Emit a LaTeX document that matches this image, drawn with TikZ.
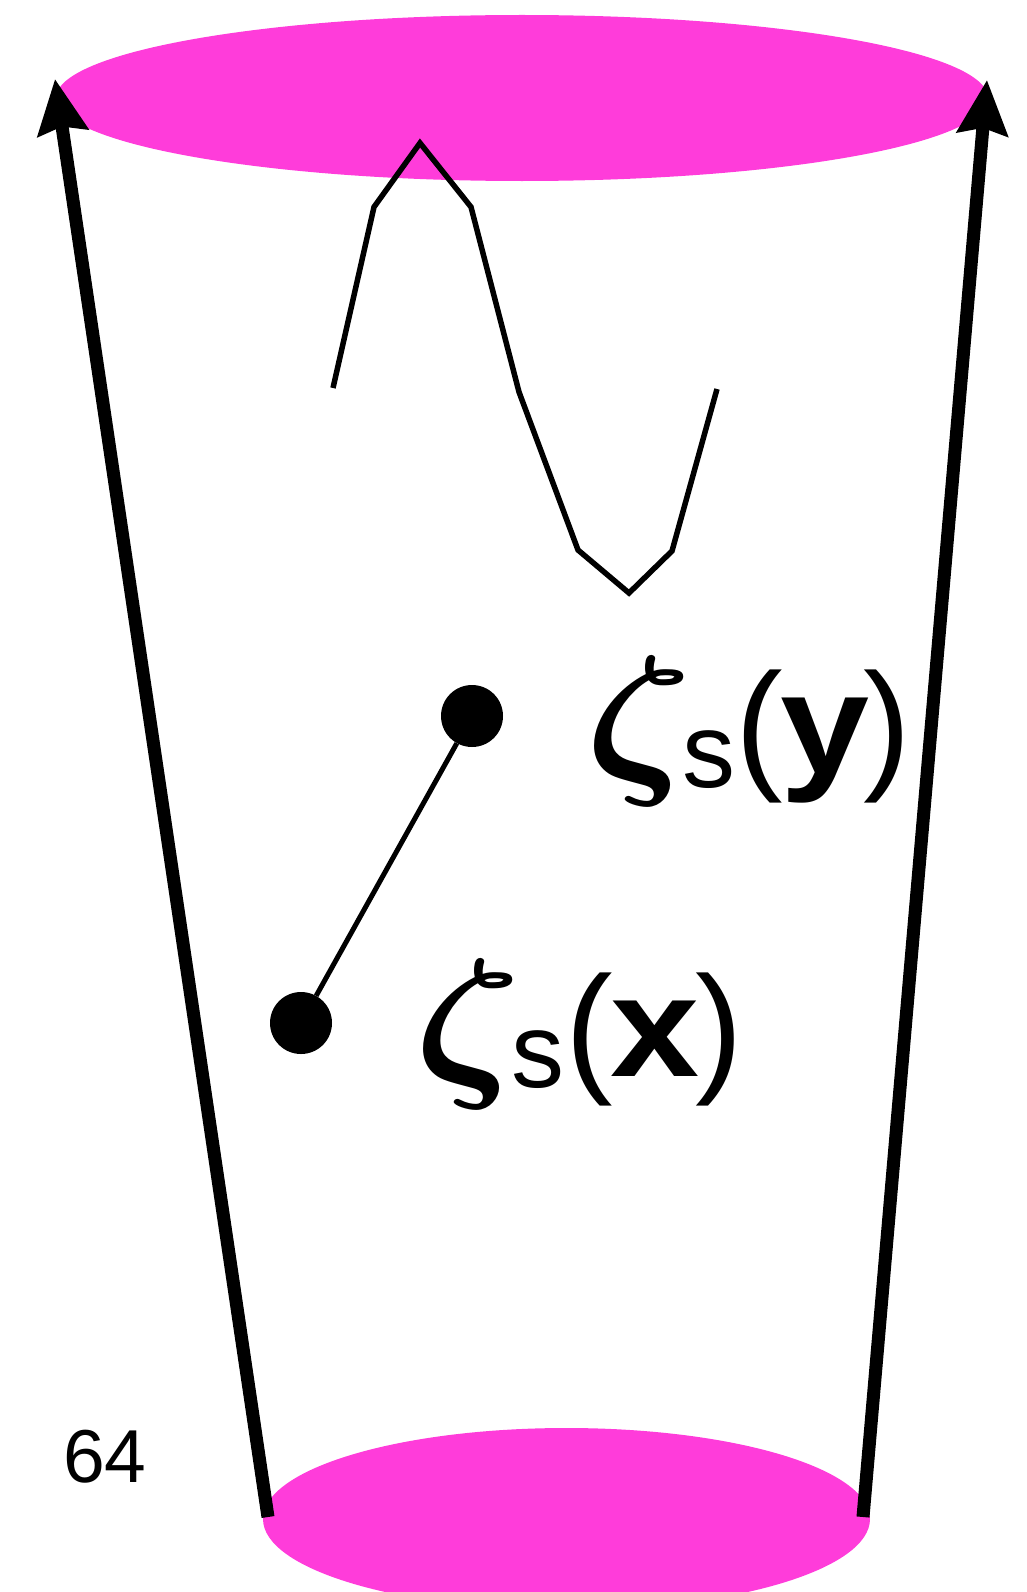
\RequirePackage{fix-cm}
\documentclass[tikz,border=0pt]{standalone}
\usepackage{fontspec}
\setmainfont{Liberation Sans}
\usetikzlibrary{arrows.meta}
\definecolor{pinkfill}{RGB}{255,60,218}
\newcommand{\zet}{{\fontsize{168}{168}\selectfont\boldmath\scalebox{1.12}[1]{$\zeta$}}}
\newcommand{\subs}[1]{\raisebox{#1}{\fontsize{106}{106}\selectfont s}}
\newcommand{\paren}[1]{{\fontsize{143}{143}\selectfont #1}}
\newcommand{\bvar}[1]{{\fontsize{143}{143}\selectfont\scalebox{1.12}[1]{\textbf{#1}}}}
\begin{document}
\begin{tikzpicture}[x=1pt,y=-1pt,
  disc/.style={fill=pinkfill},
  pole/.style={line width=13pt, -{Stealth[length=54pt,width=50pt,inset=6pt]}},
  wave/.style={line width=5.5pt, line join=miter},
  dot/.style={circle, fill=black, minimum size=62pt, inner sep=0pt},
  link/.style={line width=5pt},
  lbl/.style={anchor=base west, inner sep=0pt}]
\useasboundingbox (0,0) rectangle (1026,1592);
\clip (0,0) rectangle (1026,1592);
\fill[disc] (522,98) ellipse [x radius=466, y radius=83];
\fill[disc] (566.5,1519) ellipse [x radius=303.5, y radius=91];
\coordinate (lb) at (268,1517);
\coordinate (lt) at (55,79);
\coordinate (rb) at (863,1517);
\coordinate (rt) at (987,80);
\draw[pole] (lb) -- (lt);
\draw[pole] (rb) -- (rt);
\draw[wave] (333,388) -- (374,207) -- (420,143) -- (471,207) -- (519,392) -- (578,550) -- (629,593) -- (672,551) -- (717,389);
\node[dot] (py) at (472,716) {};
\node[dot] (px) at (301,1023) {};
\draw[link] (px) -- (py);
\node[lbl] (ly) at (590,773) {\makebox[97pt][c]{\zet}\makebox[43pt][c]{\subs{-14pt}}\makebox[58pt][c]{\paren{(}}\makebox[74pt][c]{\bvar{y}}\makebox[50pt][c]{\paren{)}}};
\node[lbl] (lx) at (419,1076) {\makebox[98pt][c]{\zet}\makebox[41pt][c]{\subs{-11pt}}\makebox[62pt][c]{\paren{(}}\makebox[70pt][c]{\bvar{x}}\makebox[59pt][c]{\paren{)}}};
\node[lbl] (num) at (63,1482) {\fontsize{75}{75}\selectfont 64};
\end{tikzpicture}
\end{document}
